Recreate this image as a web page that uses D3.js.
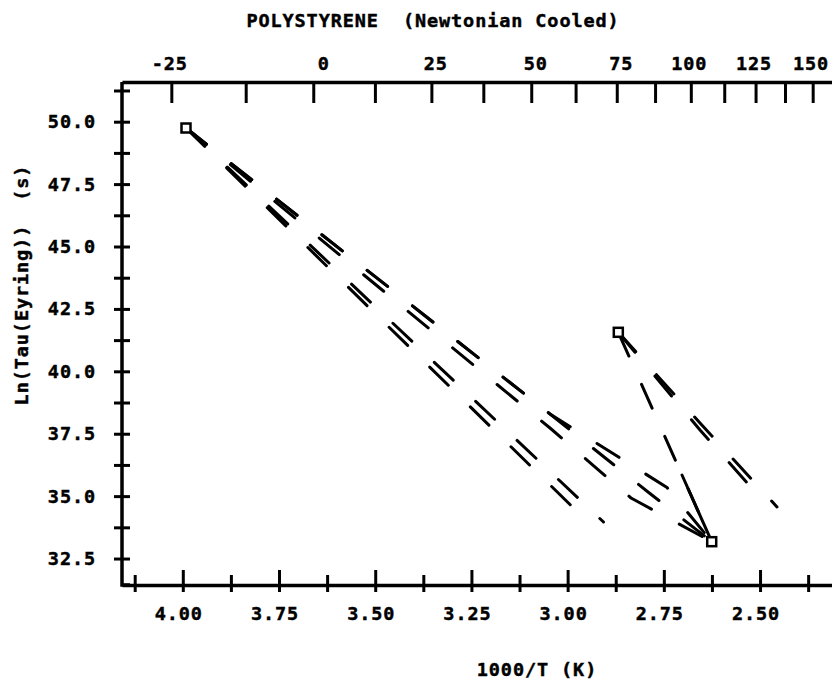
<!DOCTYPE html>
<html>
<head>
<meta charset="utf-8">
<script src="https://cdn.jsdelivr.net/npm/d3@7/dist/d3.min.js"></script>
<style>
  html, body { margin: 0; padding: 0; background: #fff; }
  svg { display: block; }
  text { font-family: "DejaVu Sans Mono", monospace; font-weight: bold; fill: #000; stroke: #000; stroke-width: 0.45px; }
</style>
</head>
<body>
<svg id="chart" width="832" height="685"></svg>
<script>
// ---------------- data ----------------
const chartTitle = "POLYSTYRENE  (Newtonian Cooled)";
const xTitle = "1000/T (K)";
const yTitle = "Ln(Tau(Eyring))  (s)";

// bottom axis: 1000/T
const xTickValues = [4.125, 4.0, 3.875, 3.75, 3.625, 3.5, 3.375, 3.25, 3.125, 3.0, 2.875, 2.75, 2.625, 2.5, 2.375];
const xLabelValues = [4.0, 3.75, 3.5, 3.25, 3.0, 2.75, 2.5];
// top axis: temperature in Celsius
const celsiusTicks = [-25, -12.5, 0, 12.5, 25, 37.5, 50, 62.5, 75, 87.5, 100, 112.5, 125, 137.5, 150];
const celsiusLabels = [-25, 0, 25, 50, 75, 100, 125, 150];
// left axis: ln(tau)
const yTickValues = [32.5, 33.75, 35, 36.25, 37.5, 38.75, 40, 41.25, 42.5, 43.75, 45, 46.25, 47.5, 48.75, 50, 51.25];
const yLabelValues = [32.5, 35, 37.5, 40, 42.5, 45, 47.5, 50];

// series, points are [1000/T, ln(tau)]
const upperA = [[3.9917, 49.747], [3.0458, 38.290], [2.7911, 35.166], [2.6256, 33.175]];
const upperB = [[3.9917, 49.747], [3.5135, 43.658], [3.0458, 37.729], [2.8353, 34.925], [2.6256, 33.175]];
const upperC = [[3.9917, 49.747], [3.0458, 38.290], [2.7417, 35.346], [2.6256, 33.175]];
const lowerA = [[3.9917, 49.747], [2.9068, 33.964]];
const lowerB = [[3.9917, 49.747], [3.1108, 36.427], [2.9712, 34.324]];
const hotA = [[2.8683, 41.563], [2.6560, 37.930], [2.4559, 34.565]];
const hotB = [[2.8683, 41.563], [2.6560, 37.649], [2.5053, 35.045]];
const returnPath = [[2.8683, 41.563], [2.6256, 33.175]];
const returnTail = [[2.7028, 35.846], [2.6256, 33.175]];
const markers = [[3.9917, 49.747], [2.6256, 33.175], [2.8683, 41.563]];

// ---------------- layout ----------------
const svg = d3.select("#chart");
const plotL = 122, plotR = 832, plotT = 82, plotB = 585;

const x = d3.scaleLinear().domain([4.158, 2.313]).range([plotL, plotR]);
const y = d3.scaleLinear().domain([31.44, 51.59]).range([plotB, plotT]);
const fontPx = 18.5, spacing = 0.9;

function styleText(sel) {
  return sel.style("font-size", fontPx + "px")
    .style("letter-spacing", spacing + "px")
    .style("white-space", "pre");
}

// title
styleText(svg.append("text")
  .attr("x", 433).attr("y", 27)
  .attr("text-anchor", "middle"))
  .text(chartTitle);

// top axis (Celsius)
const topAxis = d3.axisTop(x)
  .tickValues(celsiusTicks.map(c => 1000 / (c + 273.15)))
  .tickFormat(d => {
    const c = Math.round((1000 / d - 273.15) * 10) / 10;
    return celsiusLabels.includes(c) ? String(c) : "";
  })
  .tickSizeInner(-21).tickSizeOuter(0).tickPadding(12);
const gTop = svg.append("g").attr("transform", `translate(0,${plotT})`).call(topAxis);
gTop.selectAll(".tick text").attr("text-anchor", "end").attr("x", 16);

// bottom axis
const bottomAxis = d3.axisBottom(x)
  .tickValues(xTickValues)
  .tickFormat(d => xLabelValues.includes(d) ? d.toFixed(2) : "")
  .tickSizeInner(7).tickSizeOuter(0).tickPadding(15);
const gBottom = svg.append("g").attr("transform", `translate(0,${plotB})`).call(bottomAxis);
gBottom.selectAll(".tick line")
  .attr("y1", d => xLabelValues.includes(d) ? -15 : -10)
  .attr("y2", 7);
gBottom.selectAll(".tick text").attr("x", -4.5);

// left axis
const leftAxis = d3.axisLeft(y)
  .tickValues(yTickValues)
  .tickFormat(d => yLabelValues.includes(d) ? d.toFixed(1) : "")
  .tickSizeInner(8).tickSizeOuter(0).tickPadding(18);
const gLeft = svg.append("g").attr("transform", `translate(${plotL},0)`).call(leftAxis);
gLeft.selectAll(".tick line").attr("x1", -8).attr("x2", 8);

[gTop, gBottom, gLeft].forEach(g => {
  g.attr("font-family", null).attr("font-size", null);
  g.select(".domain").attr("stroke", "#000").attr("stroke-width", 3.5).attr("fill", "none");
  g.selectAll(".tick line").attr("stroke", "#000").attr("stroke-width", 3);
  styleText(g.selectAll(".tick text")).attr("fill", "#000");
});
gLeft.select(".domain").attr("d", `M0,${plotT}V${plotB}H8`);

// axis titles
styleText(svg.append("text")
  .attr("x", 537).attr("y", 676)
  .attr("text-anchor", "middle"))
  .text(xTitle);

styleText(svg.append("text")
  .attr("transform", "translate(28,285) rotate(-90)")
  .attr("text-anchor", "middle"))
  .text(yTitle);

// ---------------- series ----------------
const line = d3.line().x(d => x(d[0])).y(d => y(d[1]));
const series = [
  { data: upperA, dash: "26,31.6" },
  { data: upperB, dash: "26,31.6" },
  { data: upperC, dash: "26,31.6" },
  { data: lowerA, dash: "26,30.9" },
  { data: lowerB, dash: "26,30.9" },
  { data: hotA, dash: "26,31" },
  { data: hotB, dash: "26,31" },
  { data: returnPath, dash: "26,31" },
  { data: returnTail, dash: null }
];
svg.append("g").selectAll("path")
  .data(series)
  .join("path")
  .attr("d", s => line(s.data))
  .attr("fill", "none")
  .attr("stroke", "#000")
  .attr("stroke-width", 3)
  .attr("stroke-linecap", "round")
  .attr("stroke-linejoin", "round")
  .attr("stroke-dasharray", s => s.dash);

// markers
svg.append("g").selectAll("rect")
  .data(markers)
  .join("rect")
  .attr("x", d => x(d[0]) - 4.5)
  .attr("y", d => y(d[1]) - 4.5)
  .attr("width", 9).attr("height", 9)
  .attr("fill", "#fff")
  .attr("stroke", "#000")
  .attr("stroke-width", 2.5);
</script>
</body>
</html>
